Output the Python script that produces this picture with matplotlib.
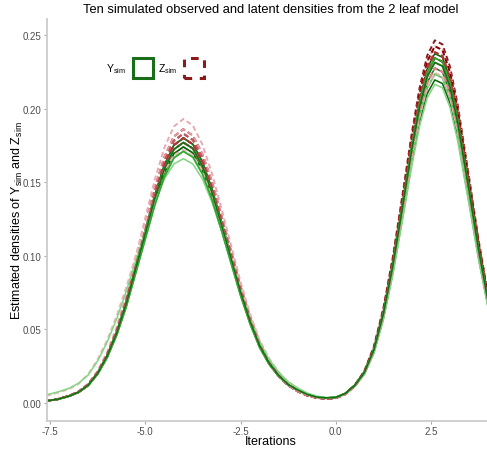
import matplotlib
matplotlib.use("Agg")
import matplotlib.pyplot as plt
from matplotlib.patches import Rectangle

plt.rcParams['font.family'] = ['Liberation Sans', 'DejaVu Sans']
plt.rcParams['mathtext.fontset'] = 'custom'
plt.rcParams['mathtext.rm'] = 'Liberation Sans'
plt.rcParams['mathtext.it'] = 'Liberation Sans:italic'

x_grid = [-7.6, -7.3, -7.0, -6.75, -6.5, -6.25, -6.0, -5.75, -5.5, -5.0, -4.75, -4.5, -4.25, -4.0,
          -3.75, -3.5, -3.25, -3.0, -2.5, -2.25, -2.0, -1.75, -1.5, -1.25, -1.0, -0.75, -0.5, -0.25,
          0.0, 0.25, 0.5, 0.75, 1.0, 1.25, 1.5, 1.75, 2.0, 2.2, 2.4, 2.6, 2.8, 3.0, 3.2, 3.5, 3.75,
          4.0, 4.2]

# observed densities (Y_sim), ten simulations
y_sim = [
    [0.0015, 0.0026, 0.0048, 0.0075, 0.0123, 0.0206, 0.0324, 0.0484, 0.0686, 0.1173, 0.1414, 0.1617, 0.1752, 0.1800, 0.1758, 0.1638, 0.1455, 0.1233, 0.0769, 0.0566, 0.0397, 0.0276, 0.0189, 0.0128, 0.0090, 0.0059, 0.0041, 0.0035, 0.0039, 0.0066, 0.0122, 0.0212, 0.0369, 0.0621, 0.0958, 0.1360, 0.1773, 0.2063, 0.2274, 0.2374, 0.2349, 0.2201, 0.1954, 0.1477, 0.1066, 0.0707, 0.0479],
    [0.0015, 0.0026, 0.0047, 0.0074, 0.0121, 0.0202, 0.0319, 0.0476, 0.0675, 0.1153, 0.1391, 0.1590, 0.1723, 0.1770, 0.1729, 0.1610, 0.1431, 0.1213, 0.0756, 0.0556, 0.0390, 0.0271, 0.0187, 0.0126, 0.0089, 0.0059, 0.0040, 0.0035, 0.0039, 0.0065, 0.0121, 0.0210, 0.0365, 0.0613, 0.0946, 0.1343, 0.1751, 0.2037, 0.2245, 0.2344, 0.2319, 0.2173, 0.1929, 0.1458, 0.1053, 0.0698, 0.0473],
    [0.0015, 0.0025, 0.0047, 0.0073, 0.0119, 0.0199, 0.0313, 0.0468, 0.0663, 0.1133, 0.1367, 0.1563, 0.1694, 0.1740, 0.1699, 0.1583, 0.1407, 0.1192, 0.0743, 0.0547, 0.0383, 0.0267, 0.0184, 0.0125, 0.0088, 0.0058, 0.0040, 0.0035, 0.0038, 0.0065, 0.0120, 0.0207, 0.0360, 0.0605, 0.0934, 0.1325, 0.1728, 0.2011, 0.2216, 0.2314, 0.2289, 0.2146, 0.1905, 0.1440, 0.1039, 0.0689, 0.0467],
    [0.0015, 0.0026, 0.0048, 0.0075, 0.0123, 0.0206, 0.0324, 0.0484, 0.0686, 0.1173, 0.1414, 0.1617, 0.1752, 0.1800, 0.1758, 0.1638, 0.1455, 0.1233, 0.0769, 0.0566, 0.0397, 0.0276, 0.0189, 0.0128, 0.0090, 0.0059, 0.0041, 0.0035, 0.0038, 0.0064, 0.0118, 0.0204, 0.0354, 0.0595, 0.0918, 0.1303, 0.1698, 0.1976, 0.2178, 0.2275, 0.2250, 0.2109, 0.1872, 0.1415, 0.1021, 0.0677, 0.0459],
    [0.0015, 0.0026, 0.0047, 0.0074, 0.0121, 0.0202, 0.0319, 0.0476, 0.0675, 0.1153, 0.1391, 0.1590, 0.1723, 0.1770, 0.1729, 0.1610, 0.1431, 0.1213, 0.0756, 0.0556, 0.0390, 0.0271, 0.0187, 0.0126, 0.0089, 0.0059, 0.0040, 0.0034, 0.0038, 0.0063, 0.0116, 0.0200, 0.0348, 0.0584, 0.0902, 0.1280, 0.1669, 0.1941, 0.2140, 0.2235, 0.2210, 0.2072, 0.1839, 0.1390, 0.1003, 0.0665, 0.0451],
    [0.0015, 0.0025, 0.0047, 0.0073, 0.0119, 0.0199, 0.0313, 0.0468, 0.0663, 0.1133, 0.1367, 0.1563, 0.1694, 0.1740, 0.1699, 0.1583, 0.1407, 0.1192, 0.0743, 0.0547, 0.0383, 0.0267, 0.0184, 0.0125, 0.0088, 0.0058, 0.0040, 0.0034, 0.0037, 0.0062, 0.0115, 0.0197, 0.0341, 0.0574, 0.0886, 0.1257, 0.1639, 0.1907, 0.2102, 0.2195, 0.2171, 0.2035, 0.1806, 0.1365, 0.0985, 0.0653, 0.0443],
    [0.0015, 0.0025, 0.0046, 0.0072, 0.0117, 0.0195, 0.0308, 0.0460, 0.0652, 0.1114, 0.1344, 0.1536, 0.1665, 0.1710, 0.1670, 0.1556, 0.1382, 0.1172, 0.0730, 0.0537, 0.0377, 0.0262, 0.0181, 0.0123, 0.0087, 0.0057, 0.0040, 0.0033, 0.0038, 0.0063, 0.0116, 0.0200, 0.0348, 0.0584, 0.0902, 0.1280, 0.1669, 0.1941, 0.2140, 0.2235, 0.2210, 0.2072, 0.1839, 0.1390, 0.1003, 0.0665, 0.0451],
    [0.0055, 0.0075, 0.0100, 0.0135, 0.0190, 0.0286, 0.0414, 0.0573, 0.0760, 0.1173, 0.1366, 0.1522, 0.1624, 0.1660, 0.1624, 0.1522, 0.1366, 0.1173, 0.0760, 0.0573, 0.0414, 0.0296, 0.0210, 0.0145, 0.0103, 0.0068, 0.0047, 0.0038, 0.0039, 0.0063, 0.0113, 0.0194, 0.0337, 0.0566, 0.0874, 0.1240, 0.1616, 0.1881, 0.2073, 0.2165, 0.2141, 0.2007, 0.1782, 0.1347, 0.0972, 0.0644, 0.0437],
    [0.0015, 0.0025, 0.0046, 0.0072, 0.0117, 0.0195, 0.0308, 0.0460, 0.0652, 0.1114, 0.1344, 0.1536, 0.1665, 0.1710, 0.1670, 0.1556, 0.1382, 0.1172, 0.0730, 0.0537, 0.0377, 0.0262, 0.0181, 0.0123, 0.0087, 0.0057, 0.0040, 0.0034, 0.0039, 0.0065, 0.0121, 0.0210, 0.0365, 0.0613, 0.0946, 0.1343, 0.1751, 0.2037, 0.2245, 0.2344, 0.2319, 0.2173, 0.1929, 0.1458, 0.1053, 0.0698, 0.0473],
    [0.0015, 0.0026, 0.0047, 0.0074, 0.0121, 0.0202, 0.0319, 0.0476, 0.0675, 0.1153, 0.1391, 0.1590, 0.1723, 0.1770, 0.1729, 0.1610, 0.1431, 0.1213, 0.0756, 0.0556, 0.0390, 0.0271, 0.0187, 0.0126, 0.0089, 0.0059, 0.0040, 0.0035, 0.0038, 0.0065, 0.0120, 0.0207, 0.0360, 0.0605, 0.0934, 0.1325, 0.1728, 0.2011, 0.2216, 0.2314, 0.2289, 0.2146, 0.1905, 0.1440, 0.1039, 0.0689, 0.0467],
]

# latent densities (Z_sim), ten simulations
z_sim = [
    [0.0015, 0.0026, 0.0049, 0.0078, 0.0128, 0.0212, 0.0335, 0.0501, 0.0709, 0.1212, 0.1462, 0.1671, 0.1811, 0.1860, 0.1817, 0.1692, 0.1504, 0.1274, 0.0794, 0.0584, 0.0410, 0.0281, 0.0190, 0.0125, 0.0082, 0.0052, 0.0036, 0.0030, 0.0035, 0.0063, 0.0121, 0.0217, 0.0383, 0.0644, 0.0994, 0.1411, 0.1840, 0.2141, 0.2360, 0.2464, 0.2437, 0.2284, 0.2028, 0.1533, 0.1106, 0.0734, 0.0497],
    [0.0016, 0.0027, 0.0051, 0.0080, 0.0132, 0.0220, 0.0347, 0.0519, 0.0736, 0.1257, 0.1517, 0.1734, 0.1879, 0.1930, 0.1885, 0.1756, 0.1560, 0.1322, 0.0824, 0.0606, 0.0425, 0.0292, 0.0197, 0.0129, 0.0084, 0.0054, 0.0037, 0.0030, 0.0035, 0.0062, 0.0120, 0.0213, 0.0377, 0.0634, 0.0978, 0.1388, 0.1810, 0.2106, 0.2321, 0.2424, 0.2398, 0.2247, 0.1995, 0.1508, 0.1088, 0.0722, 0.0489],
    [0.0015, 0.0026, 0.0049, 0.0077, 0.0126, 0.0209, 0.0329, 0.0492, 0.0698, 0.1192, 0.1438, 0.1644, 0.1782, 0.1830, 0.1787, 0.1665, 0.1479, 0.1254, 0.0782, 0.0575, 0.0403, 0.0277, 0.0187, 0.0123, 0.0081, 0.0052, 0.0036, 0.0030, 0.0034, 0.0061, 0.0118, 0.0210, 0.0371, 0.0623, 0.0962, 0.1365, 0.1780, 0.2071, 0.2283, 0.2384, 0.2358, 0.2210, 0.1962, 0.1483, 0.1070, 0.0710, 0.0481],
    [0.0015, 0.0026, 0.0049, 0.0078, 0.0128, 0.0212, 0.0335, 0.0501, 0.0709, 0.1212, 0.1462, 0.1671, 0.1811, 0.1860, 0.1817, 0.1692, 0.1504, 0.1274, 0.0794, 0.0584, 0.0410, 0.0281, 0.0190, 0.0125, 0.0082, 0.0052, 0.0036, 0.0030, 0.0033, 0.0060, 0.0115, 0.0204, 0.0360, 0.0605, 0.0934, 0.1325, 0.1728, 0.2011, 0.2216, 0.2314, 0.2289, 0.2146, 0.1905, 0.1440, 0.1039, 0.0689, 0.0467],
    [0.0015, 0.0026, 0.0048, 0.0075, 0.0123, 0.0206, 0.0324, 0.0484, 0.0686, 0.1173, 0.1414, 0.1617, 0.1752, 0.1800, 0.1758, 0.1638, 0.1455, 0.1233, 0.0769, 0.0566, 0.0397, 0.0273, 0.0184, 0.0121, 0.0080, 0.0051, 0.0036, 0.0030, 0.0034, 0.0060, 0.0116, 0.0207, 0.0365, 0.0613, 0.0946, 0.1343, 0.1751, 0.2037, 0.2245, 0.2344, 0.2319, 0.2173, 0.1929, 0.1458, 0.1053, 0.0698, 0.0473],
    [0.0015, 0.0026, 0.0049, 0.0077, 0.0126, 0.0209, 0.0329, 0.0492, 0.0698, 0.1192, 0.1438, 0.1644, 0.1782, 0.1830, 0.1787, 0.1665, 0.1479, 0.1254, 0.0782, 0.0575, 0.0403, 0.0277, 0.0187, 0.0123, 0.0081, 0.0052, 0.0036, 0.0030, 0.0033, 0.0059, 0.0113, 0.0201, 0.0354, 0.0595, 0.0918, 0.1303, 0.1698, 0.1976, 0.2178, 0.2275, 0.2250, 0.2109, 0.1872, 0.1415, 0.1021, 0.0677, 0.0459],
    [0.0015, 0.0026, 0.0047, 0.0074, 0.0121, 0.0202, 0.0319, 0.0476, 0.0675, 0.1153, 0.1391, 0.1590, 0.1723, 0.1770, 0.1729, 0.1610, 0.1431, 0.1213, 0.0756, 0.0556, 0.0390, 0.0268, 0.0182, 0.0119, 0.0079, 0.0051, 0.0035, 0.0030, 0.0034, 0.0062, 0.0120, 0.0213, 0.0377, 0.0634, 0.0978, 0.1388, 0.1810, 0.2106, 0.2321, 0.2424, 0.2398, 0.2247, 0.1995, 0.1508, 0.1088, 0.0722, 0.0489],
    [0.0048, 0.0070, 0.0095, 0.0130, 0.0196, 0.0297, 0.0429, 0.0594, 0.0787, 0.1215, 0.1415, 0.1577, 0.1683, 0.1720, 0.1683, 0.1577, 0.1415, 0.1215, 0.0787, 0.0594, 0.0429, 0.0304, 0.0211, 0.0143, 0.0096, 0.0062, 0.0042, 0.0033, 0.0036, 0.0059, 0.0113, 0.0198, 0.0349, 0.0587, 0.0906, 0.1285, 0.1676, 0.1950, 0.2149, 0.2245, 0.2220, 0.2081, 0.1847, 0.1396, 0.1008, 0.0668, 0.0453],
    [0.0015, 0.0026, 0.0048, 0.0075, 0.0123, 0.0206, 0.0324, 0.0484, 0.0686, 0.1173, 0.1414, 0.1617, 0.1752, 0.1800, 0.1758, 0.1638, 0.1455, 0.1233, 0.0769, 0.0566, 0.0397, 0.0273, 0.0184, 0.0121, 0.0080, 0.0051, 0.0036, 0.0030, 0.0034, 0.0061, 0.0118, 0.0210, 0.0371, 0.0623, 0.0962, 0.1365, 0.1780, 0.2071, 0.2283, 0.2384, 0.2358, 0.2210, 0.1962, 0.1483, 0.1070, 0.0710, 0.0481],
    [0.0015, 0.0026, 0.0047, 0.0074, 0.0121, 0.0202, 0.0319, 0.0476, 0.0675, 0.1153, 0.1391, 0.1590, 0.1723, 0.1770, 0.1729, 0.1610, 0.1431, 0.1213, 0.0756, 0.0556, 0.0390, 0.0268, 0.0182, 0.0119, 0.0079, 0.0051, 0.0035, 0.0030, 0.0033, 0.0059, 0.0113, 0.0201, 0.0354, 0.0595, 0.0918, 0.1303, 0.1698, 0.1976, 0.2178, 0.2275, 0.2250, 0.2109, 0.1872, 0.1415, 0.1021, 0.0677, 0.0459],
]

y_colors = ["#0b5d0b", "#249a24", "#3cb43c", "#1c7a1c", "#45c045",
            "#0f640f", "#5ec95e", "#86d586", "#2fa82f", "#147014"]
z_colors = ["#8b1a1a", "#eaa9b0", "#a32121", "#e69aa2", "#96181c",
            "#c05a5f", "#8b0000", "#eeb7bc", "#b03a3a", "#d98890"]

x_ticks = [-7.5, -5.0, -2.5, 0.0, 2.5]
y_ticks = [0.00, 0.05, 0.10, 0.15, 0.20, 0.25]

fig = plt.figure(figsize=(4.87, 4.52), dpi=100)
ax = fig.add_axes([47 / 487, 30 / 452, 448 / 487, 402 / 452])

# latent densities dashed red, observed densities solid green
for i in range(10):
    ax.plot(x_grid, z_sim[i], color=z_colors[i], lw=1.4, linestyle=(0, (2.6, 1.6)))
    ax.plot(x_grid, y_sim[i], color=y_colors[i], lw=1.15)

ax.set_xlim(-7.58, 4.18)
ax.set_ylim(-0.0122, 0.2609)
ax.set_xticks(x_ticks)
ax.set_xticklabels(["%.1f" % t for t in x_ticks])
ax.set_yticks(y_ticks)
ax.set_yticklabels(["%.2f" % t for t in y_ticks])

for side in ["top", "right"]:
    ax.spines[side].set_visible(False)
for side in ["left", "bottom"]:
    ax.spines[side].set_color("#cccccc")
    ax.spines[side].set_linewidth(1.3)
ax.tick_params(colors="#4d4d4d", labelsize=7, length=2.5, width=0.8, pad=1.2)
ax.tick_params(axis="both", color="#aaaaaa")

ax.set_xlabel("Iterations", fontsize=9)
ax.xaxis.set_label_coords(0.5, -0.036)
ax.set_ylabel(r"Estimated densities of Y$_{\mathrm{sim}}$ and Z$_{\mathrm{sim}}$", fontsize=9)
ax.yaxis.set_label_coords(-0.05, 0.5)
fig.text(0.556, 0.978, "Ten simulated observed and latent densities from the 2 leaf model",
         ha="center", va="center", fontsize=9.3)

# legend with square keys, labels left of the keys
keys = [Rectangle((0, 0), 1, 1, facecolor="none", edgecolor="#1a6e1a", lw=2.2),
        Rectangle((0, 0), 1, 1, facecolor="none", edgecolor="#8b1a1a", lw=2.2, linestyle=(0, (2.5, 2.5)))]
fig.legend(keys, [r"Y$_{\mathrm{sim}}$", r"Z$_{\mathrm{sim}}$"], loc="center",
           bbox_to_anchor=(0.318, 0.847), ncol=2, frameon=False, markerfirst=False,
           fontsize=7.5, handlelength=1.9, handleheight=2.5, columnspacing=0.5, handletextpad=0.7)

fig.savefig("out.png", dpi=100)
